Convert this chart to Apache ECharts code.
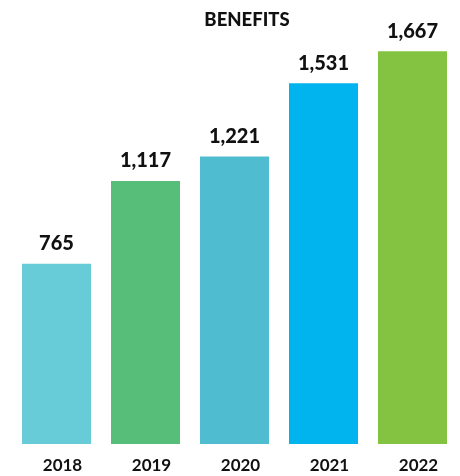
<!DOCTYPE html>
<html><head><meta charset="utf-8">
<script src="https://cdn.jsdelivr.net/npm/echarts@6/dist/echarts.min.js"></script>
<style>html,body{margin:0;padding:0;background:#fff}#c{width:460px;height:476px}</style>
</head><body><div id="c"></div>
<script>
const categories = ['2018', '2019', '2020', '2021', '2022'];
const values = [765, 1117, 1221, 1531, 1667];
const colors = ['#67CBD8', '#57BE79', '#4FBCD0', '#02B4EE', '#84C341'];
const title = 'BENEFITS';

const chart = echarts.init(document.getElementById('c'));
chart.setOption({
  animation: false,
  title: {
    text: title, left: 242, top: 6, textAlign: 'center',
    textStyle: { fontFamily: 'Lato', fontWeight: 900, fontSize: 18.5, color: '#111' }
  },
  grid: { left: 12, right: 3, top: 20, bottom: 32, containLabel: false },
  xAxis: {
    type: 'category', data: categories,
    axisLine: { show: false }, axisTick: { show: false },
    axisLabel: { margin: 13, padding: [0, 0, 0, 12], fontFamily: 'Lato', fontWeight: 'bold', fontSize: 17, color: '#111' }
  },
  yAxis: { type: 'value', min: 0, max: 1800, show: false, splitLine: { show: false } },
  series: [{
    type: 'bar', barWidth: 69,
    data: values.map((v, i) => ({ value: v, itemStyle: { color: colors[i] } })),
    label: {
      show: true, position: 'top', distance: 10,
      formatter: p => p.value.toLocaleString('en-US'),
      fontFamily: 'Lato', fontWeight: 900, fontSize: 20, color: '#111'
    }
  }]
});
</script></body></html>
